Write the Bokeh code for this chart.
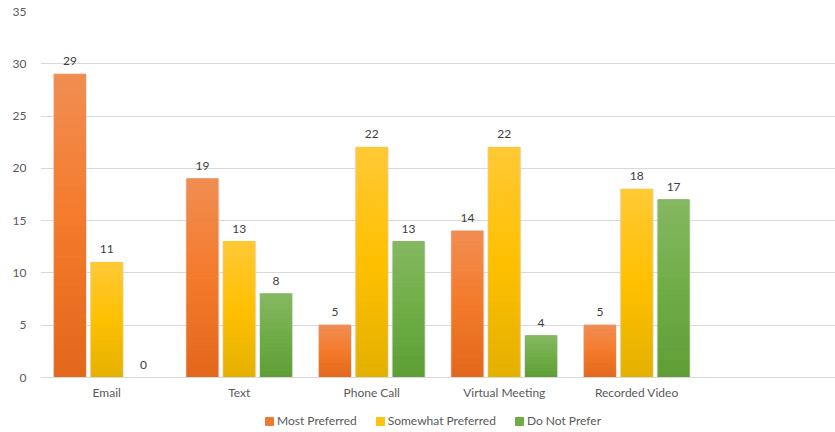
from bokeh.plotting import figure
from bokeh.layouts import column
from bokeh.models import (Range1d, FixedTicker, Legend, LegendItem, ColumnDataSource)
from bokeh.core.properties import value
from bokeh.embed import file_html
from bokeh.resources import INLINE

categories = ["Email", "Text", "Phone Call", "Virtual Meeting", "Recorded Video"]
series_names = ["Most Preferred", "Somewhat Preferred", "Do Not Prefer"]
most_preferred = [29, 19, 5, 14, 5]
somewhat_preferred = [11, 13, 22, 22, 18]
do_not_prefer = [0, 8, 13, 4, 17]
y_ticks = [0, 5, 10, 15, 20, 25, 30, 35]

series_values = [most_preferred, somewhat_preferred, do_not_prefer]
# gradient stops per series: bottom, middle, top
series_colors = [
    ("#E2671C", "#F47A2A", "#F18D52"),
    ("#E3B000", "#FFC000", "#FFC935"),
    ("#5E9E35", "#6FAD46", "#85B862"),
]
legend_colors = ["#EE7A30", "#FFC20E", "#6EAC45"]

FONT = "Lato"
TXT = "#595959"

def hex2rgb(h):
    h = h.lstrip("#")
    return tuple(int(h[i:i + 2], 16) for i in (0, 2, 4))

def mix(c1, c2, t):
    a, b = hex2rgb(c1), hex2rgb(c2)
    return "#%02x%02x%02x" % tuple(int(round(a[k] + (b[k] - a[k]) * t)) for k in range(3))

def grad(stops, t):
    if t <= 0.5:
        return mix(stops[0], stops[1], t / 0.5)
    return mix(stops[1], stops[2], (t - 0.5) / 0.5)

p = figure(width=835, height=405, output_backend="svg", toolbar_location=None,
           x_range=Range1d(0, 6), y_range=Range1d(0, 35),
           min_border_left=40, min_border_right=0, min_border_top=11,
           min_border_bottom=28)
p.outline_line_color = None
p.background_fill_color = "white"
p.border_fill_color = "white"

offsets = [-0.278, 0.0, 0.278]
bar_w = 0.235
n = 30
for s, (name, vals, stops, off) in enumerate(zip(series_names, series_values, series_colors, offsets)):
    xs = [i + 0.5 + off for i in range(len(categories))]
    nz = [(x, v) for x, v in zip(xs, vals) if v > 0]
    zx = [x for x, _ in nz]
    zv = [v for _, v in nz]
    # soft shadow outline
    p.vbar(x=zx, top=zv, bottom=0, width=bar_w + 0.012, fill_color=None,
           line_color="#d4d4d4", line_width=1.2, line_alpha=0.7)
    for k in range(n):
        t = (k + 0.5) / n
        col = grad(stops, t)
        p.vbar(x=zx, bottom=[v * k / n for v in zv], top=[v * (k + 1) / n for v in zv],
               width=bar_w, fill_color=col, line_color=col, line_width=1)
    src = ColumnDataSource(dict(x=xs, y=vals, t=[str(v) for v in vals]))
    p.text(x="x", y="y", text="t", source=src, text_align="center",
           text_baseline="bottom", y_offset=-9, text_font=value(FONT),
           text_font_size="12px", text_color="#404040")

p.xaxis.ticker = FixedTicker(ticks=[i + 0.5 for i in range(len(categories))])
p.xaxis.major_label_overrides = {i + 0.5: c for i, c in enumerate(categories)}
p.xaxis.axis_line_color = "#d9d9d9"
p.xaxis.axis_line_width = 1
p.xaxis.major_tick_line_color = None
p.xaxis.minor_tick_line_color = None
p.xaxis.major_label_standoff = 1
p.xaxis.major_label_text_font = FONT
p.xaxis.major_label_text_font_size = "12px"
p.xaxis.major_label_text_color = TXT
p.xgrid.grid_line_color = None

p.yaxis.ticker = FixedTicker(ticks=y_ticks)
p.yaxis.axis_line_color = None
p.yaxis.major_tick_line_color = None
p.yaxis.minor_tick_line_color = None
p.yaxis.major_label_standoff = 8
p.yaxis.major_label_text_font = FONT
p.yaxis.major_label_text_font_size = "12px"
p.yaxis.major_label_text_color = TXT
p.ygrid.grid_line_color = "#d9d9d9"

# legend strip below
lg = figure(width=835, height=27, output_backend="svg", toolbar_location=None,
            x_range=Range1d(0, 1), y_range=Range1d(0, 1),
            x_axis_type=None, y_axis_type=None,
            min_border_left=0, min_border_right=0, min_border_top=0, min_border_bottom=0)
lg.outline_line_color = None
lg.grid.grid_line_color = None
legend_items = []
for name, col in zip(series_names, legend_colors):
    r = lg.vbar(x=[0], top=[0], bottom=[0], width=0, fill_color=col, line_color=col)
    legend_items.append(LegendItem(label=name, renderers=[r]))
legend = Legend(items=legend_items, orientation="horizontal", location=(224, 4),
                label_text_font=FONT, label_text_font_size="12px",
                label_text_color=TXT, glyph_width=10, glyph_height=10,
                label_standoff=3, spacing=18, padding=4, margin=0,
                border_line_color=None, background_fill_alpha=0)
lg.add_layout(legend, "center")

layout = column(p, lg, spacing=0)
open("out.html", "w").write(file_html(layout, INLINE))
